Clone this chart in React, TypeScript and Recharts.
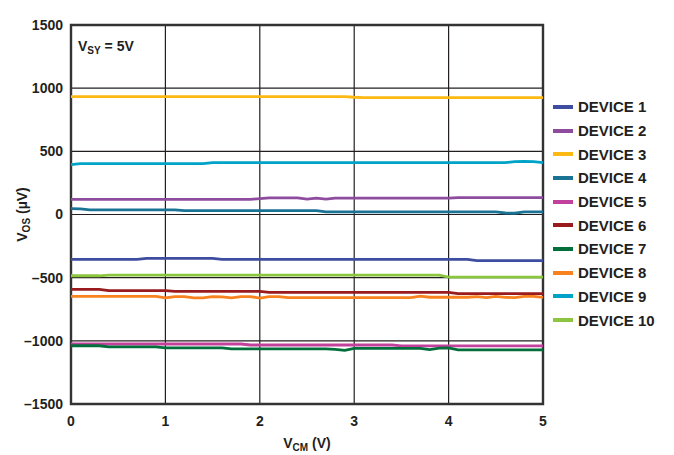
import React from 'react';
import { LineChart, Line, XAxis, YAxis, CartesianGrid, Legend, ReferenceArea, Label } from 'recharts';

// common-mode voltage sweep (V)
const VCM = [
  0, 0.1, 0.2, 0.3, 0.4, 0.5, 0.6, 0.7, 0.8, 0.9,
  1, 1.1, 1.2, 1.3, 1.4, 1.5, 1.6, 1.7, 1.8, 1.9,
  2, 2.1, 2.2, 2.3, 2.4, 2.5, 2.6, 2.7, 2.8, 2.9,
  3, 3.1, 3.2, 3.3, 3.4, 3.5, 3.6, 3.7, 3.8, 3.9,
  4, 4.1, 4.2, 4.3, 4.4, 4.5, 4.6, 4.7, 4.8, 4.9, 5,
];

// offset voltage per device (uV)
const DEVICE_1 = [
  -355, -355, -355, -355, -355, -355, -355, -355, -348, -348,
  -348, -348, -348, -348, -348, -348, -355, -355, -355, -355,
  -355, -355, -355, -355, -355, -355, -355, -355, -355, -355,
  -355, -355, -355, -355, -355, -355, -355, -355, -355, -355,
  -355, -355, -355, -365, -365, -365, -365, -365, -365, -365, -365,
];
const DEVICE_2 = [
  120, 120, 120, 120, 120, 120, 120, 120, 120, 120,
  120, 120, 120, 120, 120, 120, 120, 120, 120, 120,
  126, 132, 132, 132, 132, 122, 130, 122, 130, 130,
  130, 130, 130, 130, 130, 130, 130, 130, 130, 130,
  130, 134, 134, 134, 134, 134, 134, 134, 134, 134, 134,
];
const DEVICE_3 = [
  933, 933, 933, 933, 933, 933, 933, 933, 933, 933,
  933, 933, 933, 933, 933, 933, 933, 933, 933, 933,
  933, 933, 933, 933, 933, 933, 933, 933, 933, 933,
  928, 925, 925, 925, 925, 925, 925, 925, 925, 925,
  925, 925, 925, 925, 925, 925, 925, 925, 925, 925, 925,
];
const DEVICE_4 = [
  46, 44, 36, 36, 36, 36, 36, 36, 36, 36,
  36, 36, 30, 30, 30, 30, 30, 30, 30, 30,
  30, 30, 30, 30, 30, 30, 30, 20, 20, 20,
  20, 20, 20, 20, 20, 20, 20, 20, 20, 20,
  20, 20, 20, 20, 20, 20, 12, 10, 20, 20, 20,
];
const DEVICE_5 = [
  -1025, -1025, -1025, -1025, -1025, -1025, -1025, -1025, -1025, -1025,
  -1025, -1025, -1025, -1025, -1025, -1025, -1025, -1025, -1025, -1033,
  -1033, -1033, -1033, -1033, -1033, -1033, -1033, -1033, -1033, -1033,
  -1033, -1033, -1033, -1033, -1033, -1040, -1040, -1040, -1040, -1040,
  -1040, -1040, -1040, -1040, -1040, -1040, -1040, -1040, -1040, -1040, -1040,
];
const DEVICE_6 = [
  -592, -592, -592, -592, -603, -603, -603, -603, -603, -603,
  -603, -608, -608, -608, -608, -608, -608, -608, -608, -608,
  -608, -616, -616, -616, -616, -616, -616, -616, -616, -616,
  -616, -616, -616, -616, -616, -616, -616, -616, -616, -616,
  -616, -627, -627, -627, -627, -627, -627, -627, -627, -627, -627,
];
const DEVICE_7 = [
  -1039, -1039, -1039, -1039, -1048, -1048, -1048, -1048, -1048, -1048,
  -1056, -1056, -1056, -1056, -1056, -1056, -1056, -1064, -1064, -1064,
  -1064, -1064, -1064, -1064, -1064, -1064, -1064, -1064, -1068, -1075,
  -1060, -1060, -1060, -1060, -1060, -1060, -1060, -1060, -1070, -1058,
  -1056, -1072, -1072, -1072, -1072, -1072, -1072, -1072, -1072, -1072, -1072,
];
const DEVICE_8 = [
  -648, -648, -648, -648, -648, -648, -648, -648, -648, -648,
  -660, -650, -650, -660, -660, -650, -652, -660, -650, -650,
  -662, -650, -650, -658, -658, -658, -658, -658, -658, -658,
  -658, -658, -658, -658, -658, -658, -658, -646, -655, -655,
  -655, -655, -655, -650, -658, -648, -656, -658, -648, -648, -656,
];
const DEVICE_9 = [
  394, 402, 402, 402, 402, 402, 402, 402, 402, 402,
  402, 402, 402, 402, 402, 410, 410, 410, 410, 410,
  410, 410, 410, 410, 410, 410, 410, 410, 410, 410,
  410, 410, 410, 410, 410, 410, 410, 410, 410, 410,
  410, 410, 410, 410, 410, 410, 410, 418, 421, 418, 410,
];
const DEVICE_10 = [
  -485, -485, -485, -485, -480, -480, -480, -480, -480, -480,
  -480, -480, -480, -480, -480, -480, -480, -480, -480, -480,
  -480, -480, -480, -480, -480, -480, -480, -480, -480, -480,
  -480, -480, -480, -480, -480, -480, -480, -480, -480, -480,
  -495, -495, -495, -495, -495, -495, -495, -495, -495, -495, -495,
];

const X_TICKS = [0, 1, 2, 3, 4, 5];
const Y_TICKS = [-1500, -1000, -500, 0, 500, 1000, 1500];

const SERIES = [
  { key: 'd1', name: 'DEVICE 1', color: '#3E4DA0', values: DEVICE_1 },
  { key: 'd2', name: 'DEVICE 2', color: '#8E4C9E', values: DEVICE_2 },
  { key: 'd3', name: 'DEVICE 3', color: '#FDB913', values: DEVICE_3 },
  { key: 'd4', name: 'DEVICE 4', color: '#1A7394', values: DEVICE_4 },
  { key: 'd5', name: 'DEVICE 5', color: '#C2419C', values: DEVICE_5 },
  { key: 'd6', name: 'DEVICE 6', color: '#991B1E', values: DEVICE_6 },
  { key: 'd7', name: 'DEVICE 7', color: '#006F3C', values: DEVICE_7 },
  { key: 'd8', name: 'DEVICE 8', color: '#F7821E', values: DEVICE_8 },
  { key: 'd9', name: 'DEVICE 9', color: '#00A3C8', values: DEVICE_9 },
  { key: 'd10', name: 'DEVICE 10', color: '#8CC63F', values: DEVICE_10 },
];

const rows = VCM.map((v, i) => {
  const row: Record<string, number> = { vcm: v };
  SERIES.forEach((s) => { row[s.key] = s.values[i]; });
  return row;
});

const FONT = '"Liberation Sans", Arial, sans-serif';
const INK = '#231F20';

const fmtY = (v: number) => (v < 0 ? `\u2013${Math.abs(v)}` : `${v}`);

// keep the series order (recharts sorts legend items by name otherwise)
const LegendBox = () => (
  <div style={{ fontFamily: FONT, fontWeight: 'bold', fontSize: 15, color: INK }}>
    {SERIES.map((s) => (
      <div key={s.key} style={{ display: 'flex', alignItems: 'center', height: 23.7 }}>
        <span style={{ display: 'inline-block', width: 20, height: 4, background: s.color, marginRight: 5 }} />
        <span>{s.name}</span>
      </div>
    ))}
  </div>
);

const YTitle = (props: any) => {
  const vb = props.viewBox || {};
  const x = 27;
  const y = (vb.y ?? 0) + (vb.height ?? 0) / 2;
  return (
    <text x={x} y={y} transform={`rotate(-90 ${x} ${y})`} textAnchor="middle"
      fontFamily={FONT} fontWeight="bold" fontSize={14} fill={INK}>
      <tspan>V</tspan>
      <tspan fontSize={10} dy={3}>OS</tspan>
      <tspan dy={-3}> (µV)</tspan>
    </text>
  );
};

const XTitle = (props: any) => {
  const vb = props.viewBox || {};
  const x = (vb.x ?? 0) + (vb.width ?? 0) / 2;
  return (
    <text x={x} y={448} textAnchor="middle" fontFamily={FONT} fontWeight="bold" fontSize={14} fill={INK}>
      <tspan>V</tspan>
      <tspan fontSize={10} dy={3}>CM</tspan>
      <tspan dy={-3}> (V)</tspan>
    </text>
  );
};

const SupplyNote = (props: any) => {
  const vb = props.viewBox || {};
  return (
    <text x={(vb.x ?? 0) + 7} y={(vb.y ?? 0) + 26} fontFamily={FONT} fontWeight="bold" fontSize={14} fill={INK}>
      <tspan>V</tspan>
      <tspan fontSize={10} dy={3}>SY</tspan>
      <tspan dy={-3}> = 5V</tspan>
    </text>
  );
};

export default function App() {
  const tick = { fontFamily: FONT, fontWeight: 'bold', fontSize: 14, fill: INK };
  return (
    <div style={{ position: 'absolute', left: 0, top: 0, background: '#fff' }}>
      <LineChart width={674} height={455} data={rows} margin={{ top: 25, right: 131, bottom: 0, left: 0 }}>
        <CartesianGrid stroke={INK} strokeWidth={1.2} />
        <XAxis
          dataKey="vcm"
          type="number"
          domain={[0, 5]}
          ticks={X_TICKS}
          height={51}
          tickSize={0}
          tickMargin={12}
          tick={tick}
          axisLine={false}
        >
          <Label content={<XTitle />} />
        </XAxis>
        <YAxis
          type="number"
          domain={[-1500, 1500]}
          ticks={Y_TICKS}
          width={71}
          tickSize={0}
          tickMargin={8}
          tick={tick}
          tickFormatter={fmtY}
          axisLine={false}
        >
          <Label content={<YTitle />} />
        </YAxis>
        <ReferenceArea x1={0} x2={5} y1={-1500} y2={1500} fill="none" stroke="#333" strokeWidth={2.4}
          ifOverflow="visible" label={<SupplyNote />} />
        {SERIES.map((s) => (
          <Line
            key={s.key}
            dataKey={s.key}
            name={s.name}
            stroke={s.color}
            strokeWidth={2.8}
            dot={false}
            type="linear"
            isAnimationActive={false}
          />
        ))}
        <Legend
          layout="vertical"
          align="center"
          verticalAlign="middle"
          content={<LegendBox />}
          wrapperStyle={{ left: 553, top: 95, width: 'auto', height: 'auto' }}
        />
      </LineChart>
    </div>
  );
}
